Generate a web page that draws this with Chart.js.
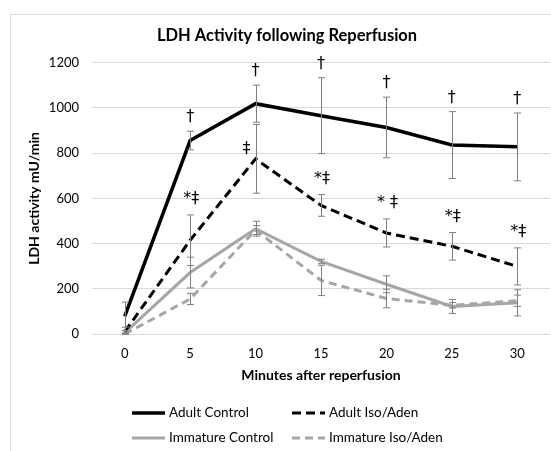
<!DOCTYPE html>
<html>
<head>
<meta charset="utf-8">
<script src="https://cdn.jsdelivr.net/npm/chart.js@4"></script>
<style>
  body { margin: 0; background: #fff; overflow: hidden; }
  #wrap { position: relative; width: 551px; height: 451px; }
  #frame { position: absolute; left: 10px; top: 14px; width: 600px; height: 500px;
           border-left: 1px solid #d9d9d9; border-top: 1px solid #d9d9d9; pointer-events: none; }
</style>
</head>
<body>
<div id="wrap">
  <canvas id="ldhChart" width="551" height="451"></canvas>
  <div id="frame"></div>
</div>
<script>
// minutes after reperfusion
const minutes = ['0', '5', '10', '15', '20', '25', '30'];

// LDH activity (mU/min) and error bar half-lengths
const adultControl = [78, 856, 1019, 966, 914, 836, 828];
const adultControlErr = [63, 41, 82, 168, 134, 148, 150];
const adultIso = [10, 415, 775, 569, 447, 388, 299];
const adultIsoErr = [20, 112, 152, 48, 62, 61, 82];
const immatureControl = [5, 272, 466, 321, 220, 122, 138];
const immatureControlErr = [10, 68, 33, 10, 37, 31, 58];
const immatureIso = [0, 155, 460, 237, 157, 127, 147];
const immatureIsoErr = [5, 25, 20, 67, 41, 12, 25];

// significance marks
const adultControlMarks = ['', '\u2020', '\u2020', '\u2020', '\u2020', '\u2020', '\u2020'];
const adultIsoMarks = ['', '*\u2021', '\u2021', '*\u2021', '* \u2021', '*\u2021', '*\u2021'];

const FONT = 'Lato, "Open Sans", sans-serif';

// draws the error bars for every dataset that has an "err" array
const errorBars = {
    id: 'errorBars',
    afterDatasetsDraw(chart) {
        const ctx = chart.ctx;
        const x = chart.scales.x;
        const y = chart.scales.y;
        ctx.save();
        ctx.strokeStyle = '#7f7f7f';
        ctx.lineWidth = 1;
        chart.data.datasets.forEach(ds => {
            ds.data.forEach((v, i) => {
                const e = ds.err[i];
                const px = Math.round(x.getPixelForValue(i)) + 0.5;
                const top = y.getPixelForValue(v + e);
                const bot = y.getPixelForValue(Math.max(v - e, 0));
                ctx.beginPath();
                ctx.moveTo(px, top); ctx.lineTo(px, bot);
                ctx.moveTo(px - 3.5, top); ctx.lineTo(px + 3.5, top);
                ctx.moveTo(px - 3.5, bot); ctx.lineTo(px + 3.5, bot);
                ctx.stroke();
            });
        });
        ctx.restore();
    }
};

// daggers and stars above the adult series
const sigMarks = {
    id: 'sigMarks',
    afterDatasetsDraw(chart) {
        const ctx = chart.ctx;
        const x = chart.scales.x;
        const y = chart.scales.y;
        ctx.save();
        ctx.fillStyle = '#000';
        ctx.font = '16px "DejaVu Sans", sans-serif';
        ctx.textAlign = 'center';
        ctx.textBaseline = 'middle';
        adultControlMarks.forEach((m, i) => {
            if (!m) return;
            ctx.fillText(m, x.getPixelForValue(i), y.getPixelForValue(adultControl[i] + adultControlErr[i]) - 14);
        });
        adultIsoMarks.forEach((m, i) => {
            if (!m) return;
            if (m === '\u2021') {
                // sits beside the bar, just over the peak
                ctx.fillText(m, x.getPixelForValue(i) - 9, y.getPixelForValue(adultIso[i]) - 10);
            } else {
                ctx.fillText(m, x.getPixelForValue(i) + 1, y.getPixelForValue(adultIso[i] + adultIsoErr[i]) - 16);
            }
        });
        ctx.restore();
    }
};

// two column legend like the original
const gridLegend = {
    id: 'gridLegend',
    afterDraw(chart) {
        const ctx = chart.ctx;
        const cols = [132, 292];
        const rows = [413, 438];
        ctx.save();
        ctx.font = '13.5px ' + FONT;
        ctx.textBaseline = 'middle';
        ctx.textAlign = 'left';
        chart.data.datasets.forEach((ds, i) => {
            const lx = cols[i % 2];
            const ly = rows[Math.floor(i / 2)];
            ctx.strokeStyle = ds.borderColor;
            ctx.lineWidth = ds.borderWidth;
            ctx.setLineDash(ds.borderDash || []);
            ctx.beginPath();
            ctx.moveTo(lx, ly); ctx.lineTo(lx + 33, ly);
            ctx.stroke();
            ctx.setLineDash([]);
            ctx.fillStyle = '#000';
            ctx.fillText(ds.label, lx + 37, ly);
        });
        ctx.restore();
    }
};

const ctx = document.getElementById('ldhChart').getContext('2d');
new Chart(ctx, {
    type: 'line',
    data: {
        labels: minutes,
        datasets: [
            { label: 'Adult Control', data: adultControl, err: adultControlErr,
              borderColor: '#000', borderWidth: 3.5, pointRadius: 0, tension: 0 },
            { label: 'Adult Iso/Aden', data: adultIso, err: adultIsoErr,
              borderColor: '#000', borderWidth: 3, borderDash: [9, 5], pointRadius: 0, tension: 0 },
            { label: 'Immature Control', data: immatureControl, err: immatureControlErr,
              borderColor: '#a6a6a6', borderWidth: 3, pointRadius: 0, tension: 0 },
            { label: 'Immature Iso/Aden', data: immatureIso, err: immatureIsoErr,
              borderColor: '#a6a6a6', borderWidth: 3, borderDash: [8, 5], pointRadius: 0, tension: 0 }
        ]
    },
    options: {
        responsive: false,
        animation: false,
        devicePixelRatio: 1,
        layout: { padding: { left: 24, right: 1, top: 0, bottom: 67 } },
        plugins: {
            legend: { display: false },
            tooltip: { enabled: false },
            title: {
                display: true,
                text: 'LDH Activity following Reperfusion',
                color: '#000',
                font: { family: FONT, size: 16.5, weight: 'bold' },
                padding: { top: 26, bottom: 17 }
            }
        },
        scales: {
            x: {
                offset: true,
                grid: { display: false, drawTicks: false },
                border: { display: false },
                ticks: { color: '#000', font: { family: FONT, size: 13 }, padding: 12, maxRotation: 0 },
                title: {
                    display: true, text: 'Minutes after reperfusion', color: '#000',
                    font: { family: FONT, size: 14, weight: 'bold' }, padding: { top: 0, bottom: 0 }
                },
                afterFit(scale) { scale.height = 50; }
            },
            y: {
                min: 0, max: 1200,
                grid: { color: '#d9d9d9', drawTicks: false },
                border: { display: false },
                ticks: { stepSize: 200, color: '#000', font: { family: FONT, size: 13 }, padding: 13,
                         callback: v => String(v) },
                title: {
                    display: true, text: 'LDH activity mU/min', color: '#000',
                    font: { family: FONT, size: 14, weight: 'bold' }, padding: { top: 2, bottom: 0 }
                },
                afterFit(scale) { scale.width = 68; }
            }
        }
    },
    plugins: [errorBars, sigMarks, gridLegend]
});
</script>
</body>
</html>
